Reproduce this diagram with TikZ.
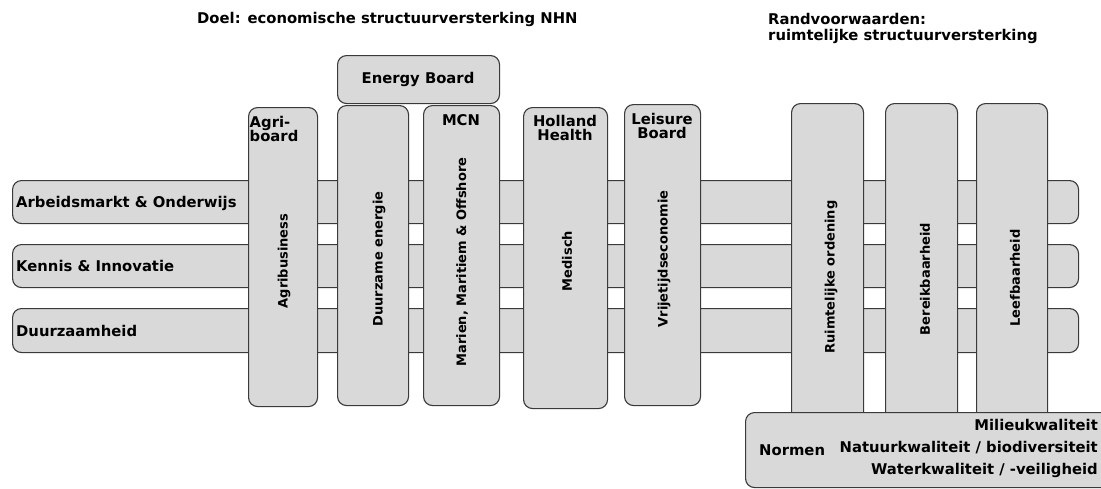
\documentclass[tikz,border=0pt]{standalone}
\usepackage{fontspec}
\setmainfont{DejaVu Sans}
\definecolor{boxfill}{HTML}{D9D9D9}
\definecolor{boxline}{HTML}{3A3A3A}

\begin{document}
\begin{tikzpicture}[x=1pt,y=-1pt,
  box/.style={draw=boxline,fill=boxfill,line width=1.1pt,rounded corners=9pt,
    inner sep=0pt,anchor=north west},
  lbl/.style={font=\fontsize{14.8}{14.5}\selectfont\bfseries,inner sep=0pt},
  vlbl/.style={font=\fontsize{13}{15}\selectfont\bfseries,inner sep=0pt,rotate=90}]
\useasboundingbox (0,0) rectangle (1101,488);
\clip (0,0) rectangle (1101,488);

% horizontal themes
\node[box,minimum width=1066pt,minimum height=43pt] (arbeid) at (12,180) {};
\node[box,minimum width=1066pt,minimum height=43pt] (kennis) at (12,244) {};
\node[box,minimum width=1066pt,minimum height=44pt] (duurz) at (12,308) {};

% vertical columns
\node[box,minimum width=69pt,minimum height=299pt] (agri) at (248,107) {};
\node[box,minimum width=71pt,minimum height=300pt] (energie) at (337,105) {};
\node[box,minimum width=76pt,minimum height=300pt] (mcn) at (423,105) {};
\node[box,minimum width=84pt,minimum height=301pt] (health) at (523,107) {};
\node[box,minimum width=76pt,minimum height=301pt] (leisure) at (624,104) {};
\node[box,minimum width=72pt,minimum height=320pt] (ruimte) at (791,103) {};
\node[box,minimum width=72pt,minimum height=320pt] (bereik) at (885,103) {};
\node[box,minimum width=71pt,minimum height=320pt] (leef) at (976,103) {};
\node[box,minimum width=162pt,minimum height=48pt] (eboard) at (337,55) {};
\node[box,minimum width=370pt,minimum height=75pt] (normen) at (745,412) {};

% titles
\node[lbl,anchor=base west] (doel) at (197,23.5) {Doel: economische structuurversterking NHN};
\node[lbl,anchor=base west] (rand) at (768,24) {Randvoorwaarden:};
\node[lbl,anchor=base west] (ruimtelijk) at (768,40) {ruimtelijke structuurversterking};

% theme labels
\node[lbl,anchor=base west] (arbeidlbl) at (16,207) {Arbeidsmarkt \& Onderwijs};
\node[lbl,anchor=base west] (kennislbl) at (16,271.5) {Kennis \& Innovatie};
\node[lbl,anchor=base west] (duurzlbl) at (16,336) {Duurzaamheid};

% column heads
\node[lbl,anchor=west,align=left] (agrilbl) at (249.5,129) {Agri-\\board};
\node[lbl,anchor=base] (eboardlbl) at (418,83.5) {Energy Board};
\node[lbl,anchor=base] (mcnlbl) at (461,125.5) {MCN};
\node[lbl,align=center] (healthlbl) at (565,128) {Holland\\Health};
\node[lbl,align=center] (leisurelbl) at (662,126) {Leisure\\Board};

% column labels
\node[vlbl] (agribus) at (284,261) {Agribusiness};
\node[vlbl] (energielbl) at (379,259) {Duurzame energie};
\node[vlbl] (marien) at (462,262) {Marien, Maritiem \& Offshore};
\node[vlbl] (medisch) at (567,261) {Medisch};
\node[vlbl] (vrije) at (664,259) {Vrijetijdseconomie};
\node[vlbl] (ordening) at (831,277) {Ruimtelijke ordening};
\node[vlbl] (bereiklbl) at (925,279) {Bereikbaarheid};
\node[vlbl] (leeflbl) at (1015,278) {Leefbaarheid};

% norms
\node[lbl,anchor=base east] (milieu) at (1098,430) {Milieukwaliteit};
\node[lbl,anchor=base east] (natuur) at (1098,452.5) {Natuurkwaliteit / biodiversiteit};
\node[lbl,anchor=base east] (water) at (1098,474) {Waterkwaliteit / -veiligheid};
\node[lbl,anchor=base west] (normenlbl) at (759,455) {Normen};
\end{tikzpicture}
\end{document}
